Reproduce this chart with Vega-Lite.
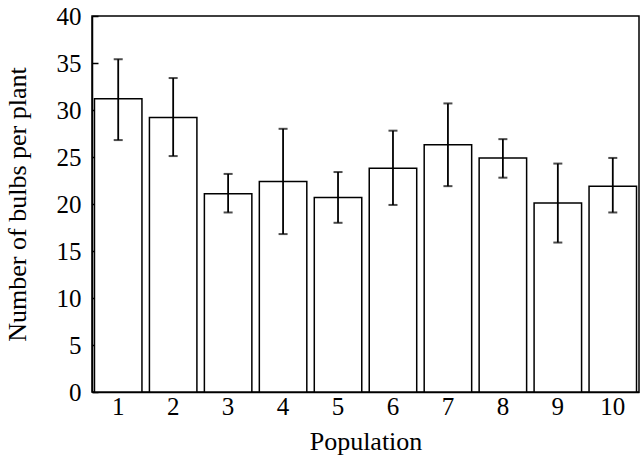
{
  "$schema": "https://vega.github.io/schema/vega-lite/v6.json",
  "width": 547,
  "height": 376,
  "autosize": "none",
  "padding": {"left": 92, "top": 16, "right": 1, "bottom": 66},
  "background": "white",
  "config": {
    "font": "Liberation Serif",
    "view": {"stroke": "black", "strokeWidth": 1.5},
    "axis": {
      "labelFont": "Liberation Serif",
      "titleFont": "Liberation Serif",
      "labelFontSize": 25,
      "titleFontSize": 26,
      "labelColor": "black",
      "titleColor": "black",
      "titleFontWeight": "normal",
      "domainColor": "black",
      "domainWidth": 1.5,
      "tickColor": "black",
      "tickWidth": 1.5,
      "grid": false
    }
  },
  "data": {
    "values": [
      {"population": "1", "mean": 31.2, "low": 26.8, "high": 35.4},
      {"population": "2", "mean": 29.2, "low": 25.1, "high": 33.4},
      {"population": "3", "mean": 21.1, "low": 19.1, "high": 23.2},
      {"population": "4", "mean": 22.4, "low": 16.8, "high": 28.0},
      {"population": "5", "mean": 20.7, "low": 18.0, "high": 23.4},
      {"population": "6", "mean": 23.8, "low": 19.9, "high": 27.8},
      {"population": "7", "mean": 26.3, "low": 21.9, "high": 30.7},
      {"population": "8", "mean": 24.9, "low": 22.8, "high": 26.9},
      {"population": "9", "mean": 20.1, "low": 15.9, "high": 24.3},
      {"population": "10", "mean": 21.9, "low": 19.1, "high": 24.9}
    ]
  },
  "encoding": {
    "x": {
      "field": "population",
      "type": "ordinal",
      "sort": null,
      "scale": {"paddingInner": 0.136, "paddingOuter": 0.045},
      "axis": {"title": "Population", "labelAngle": 0, "ticks": false, "labelPadding": 2, "titlePadding": 9}
    }
  },
  "layer": [
    {
      "mark": {"type": "bar", "fill": "white", "stroke": "black", "strokeWidth": 1.5},
      "encoding": {
        "y": {
          "field": "mean",
          "type": "quantitative",
          "scale": {"domain": [0, 40], "nice": false},
          "axis": {"title": "Number of bulbs per plant", "values": [0,5,10,15,20,25,30,35,40], "tickSize": -6, "labelPadding": 17, "titlePadding": 26}
        }
      }
    },
    {
      "mark": {"type": "rule", "color": "black", "strokeWidth": 1.8},
      "encoding": {
        "y": {"field": "low", "type": "quantitative"},
        "y2": {"field": "high"}
      }
    },
    {
      "mark": {"type": "tick", "color": "black", "size": 9, "thickness": 2},
      "encoding": {"y": {"field": "low", "type": "quantitative"}}
    },
    {
      "mark": {"type": "tick", "color": "black", "size": 9, "thickness": 2},
      "encoding": {"y": {"field": "high", "type": "quantitative"}}
    }
  ]
}
